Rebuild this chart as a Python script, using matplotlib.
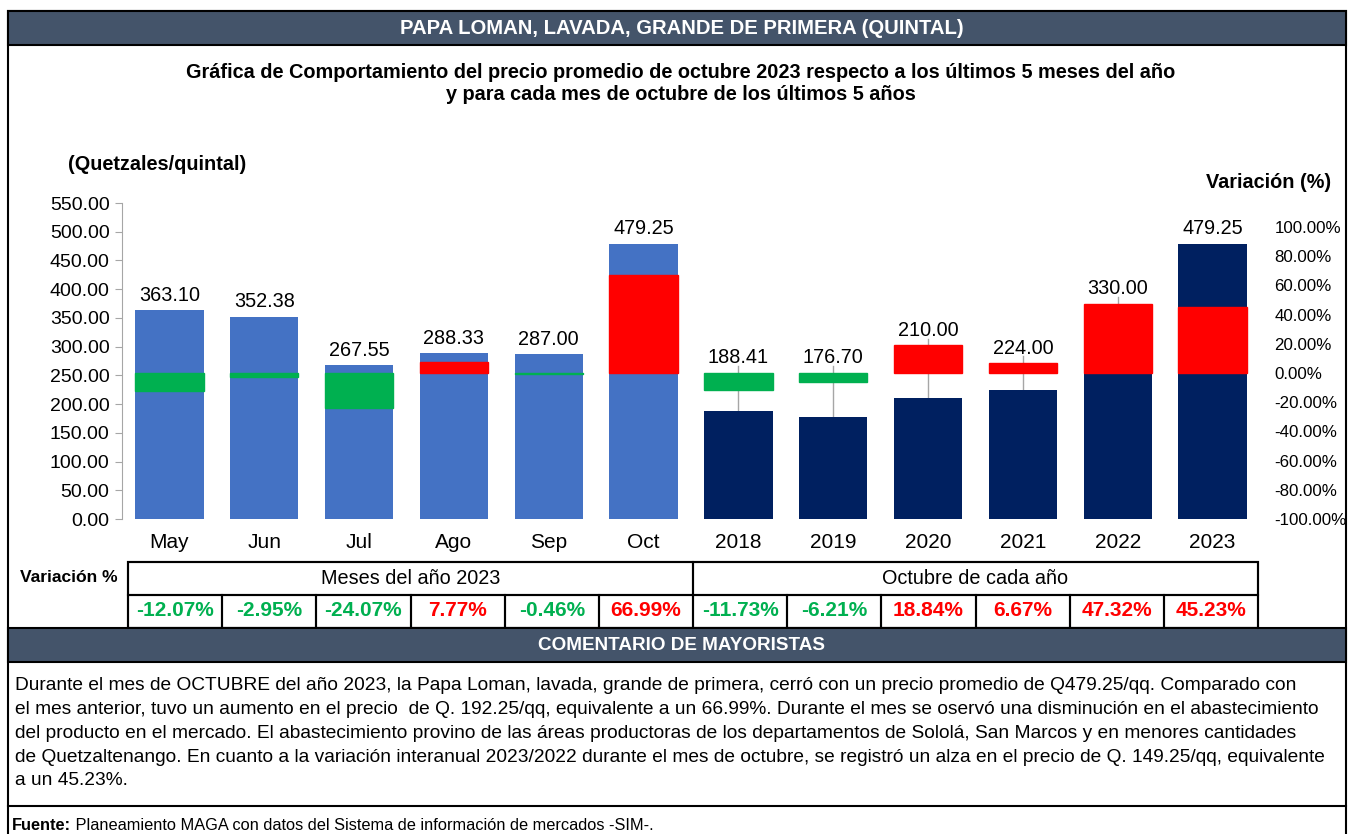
import matplotlib.pyplot as plt
from matplotlib.patches import Rectangle
from matplotlib.lines import Line2D
import numpy as np

plt.rcParams['font.family'] = ['Liberation Sans', 'DejaVu Sans']

# data
categories = ['May', 'Jun', 'Jul', 'Ago', 'Sep', 'Oct',
              '2018', '2019', '2020', '2021', '2022', '2023']
prices = [363.10, 352.38, 267.55, 288.33, 287.00, 479.25,
          188.41, 176.70, 210.00, 224.00, 330.00, 479.25]
variation = [-12.07, -2.95, -24.07, 7.77, -0.46, 66.99,
             -11.73, -6.21, 18.84, 6.67, 47.32, 45.23]
groups = ['Meses del año 2023', 'Octubre de cada año']
group_sizes = [6, 6]

title = 'PAPA LOMAN, LAVADA, GRANDE DE PRIMERA (QUINTAL)'
subtitle = ['Gráfica de Comportamiento del precio promedio de octubre 2023 respecto a los últimos 5 meses del año',
            'y para cada mes de octubre de los últimos 5 años']
comment = ['Durante el mes de OCTUBRE del año 2023, la Papa Loman, lavada, grande de primera, cerró con un precio promedio de Q479.25/qq. Comparado con',
           'el mes anterior, tuvo un aumento en el precio  de Q. 192.25/qq, equivalente a un 66.99%. Durante el mes se oservó una disminución en el abastecimiento',
           'del producto en el mercado. El abastecimiento provino de las áreas productoras de los departamentos de Sololá, San Marcos y en menores cantidades',
           'de Quetzaltenango. En cuanto a la variación interanual 2023/2022 durante el mes de octubre, se registró un alza en el precio de Q. 149.25/qq, equivalente',
           'a un 45.23%.']
source = 'Planeamiento MAGA con datos del Sistema de información de mercados -SIM-.'

band = '#44546A'
c_month = '#4472C4'
c_year = '#002060'
c_up = '#FF0000'
c_down = '#00B050'
fs = 14.3

W, H = 1348, 834
fig = plt.figure(figsize=(W / 100, H / 100), dpi=100)


def fx(x):
    return x / W


def fy(y):
    return 1 - y / H


def box(x0, y0, x1, y1, fc='none', ec='black', lw=1.5, z=1):
    fig.add_artist(Rectangle((fx(x0), fy(y1)), (x1 - x0) / W, (y1 - y0) / H,
                             transform=fig.transFigure, fc=fc, ec=ec, lw=lw, zorder=z))


def line(x0, y0, x1, y1, lw=1.5, color='black'):
    fig.add_artist(Line2D([fx(x0), fx(x1)], [fy(y0), fy(y1)],
                          transform=fig.transFigure, lw=lw, color=color))


# frame and bands
box(8, 11, 1346, 845, lw=1.5)
box(8, 11, 1346, 45, fc=band)
fig.text(fx(682), fy(28), title, color='white', fontsize=14.6, fontweight='bold',
         ha='center', va='center')
for k, s in enumerate(subtitle):
    fig.text(fx(681), fy(72 + 23 * k), s, fontsize=fs, fontweight='bold',
             ha='center', va='center')
fig.text(fx(68), fy(165), '(Quetzales/quintal)', fontsize=fs, fontweight='bold',
         ha='left', va='center')
fig.text(fx(1331), fy(183), 'Variación (%)', fontsize=fs, fontweight='bold',
         ha='right', va='center')

# chart
ax = fig.add_axes([fx(122), fy(519), (1260 - 122) / W, (519 - 203) / H])
x = np.arange(len(categories))
bw = 0.72
bar_colors = [c_month] * group_sizes[0] + [c_year] * group_sizes[1]
ax.bar(x, prices, width=bw, color=bar_colors, zorder=2)
ax.set_xlim(-0.5, len(categories) - 0.5)
ax.set_ylim(0, 550)
ax.set_yticks(np.arange(0, 551, 50))
ax.set_yticklabels(['%.2f' % v for v in np.arange(0, 551, 50)])
ax.set_xticks(x)
ax.set_xticklabels(categories)
for s in ['top', 'right', 'bottom']:
    ax.spines[s].set_visible(False)
ax.spines['left'].set_color('#A6A6A6')
ax.tick_params(axis='y', colors='#A6A6A6', labelcolor='black', length=5,
               labelsize=14, pad=4)
ax.tick_params(axis='x', length=0, labelsize=15, pad=10)

r_lo, r_hi = -100, 116.4
ax2 = ax.twinx()
var_colors = [c_up if v > 0 else c_down for v in variation]
ax2.bar(x, variation, width=bw, color=var_colors, edgecolor=var_colors, lw=1,
        zorder=3)
ax2.set_ylim(r_lo, r_hi)
ax2.set_yticks(np.arange(-100, 101, 20))
ax2.set_yticklabels(['%.2f%%' % v for v in np.arange(-100, 101, 20)])
for s in ax2.spines.values():
    s.set_visible(False)
ax2.tick_params(axis='y', length=0, labelsize=12.2, pad=10.5)


def to_left(v):
    return (v - r_lo) / (r_hi - r_lo) * 550


for i, (p, v) in enumerate(zip(prices, variation)):
    top_var = to_left(max(v, 0))
    base = max(p, top_var)
    if top_var > p:
        ax.plot([i, i], [p, base + 12], color='#A6A6A6', lw=1, zorder=1)
    ax2.annotate('%.2f' % p, xy=(i, base), xycoords=ax.transData, xytext=(0, 4),
                 textcoords='offset points', ha='center', va='bottom', fontsize=fs)

# variation table
t0, t1 = 128, 1258
cw = (t1 - t0) / len(categories)
box(t0, 562, t1, 628)
fig.text(fx(69), fy(578), 'Variación %', fontsize=12.6, fontweight='bold',
         ha='center', va='center')
start = 0
for g, n in zip(groups, group_sizes):
    gx0 = t0 + start * cw
    gx1 = gx0 + n * cw
    box(gx0, 562, gx1, 595)
    fig.text(fx((gx0 + gx1) / 2), fy(578), g, fontsize=fs, ha='center', va='center')
    start += n
for i, v in enumerate(variation):
    cx0 = t0 + i * cw
    box(cx0, 595, cx0 + cw, 628)
    fig.text(fx(cx0 + cw / 2), fy(611), '%.2f%%' % v, fontsize=15,
             fontweight='bold', color=c_up if v > 0 else c_down,
             ha='center', va='center')

# comments
box(8, 628, 1346, 662, fc=band)
fig.text(fx(682), fy(645), 'COMENTARIO DE MAYORISTAS', color='white', fontsize=13.6,
         fontweight='bold', ha='center', va='center')
for k, s in enumerate(comment):
    fig.text(fx(15), fy(686 + 23.7 * k), s, fontsize=13.75, ha='left', va='center')
line(8, 806, 1346, 806)
src = fig.text(fx(12), fy(826), 'Fuente:', fontsize=11.8, fontweight='bold',
               ha='left', va='center')
ax2.annotate(' ' + source, xy=(1, 0.5), xycoords=src, ha='left', va='center',
             fontsize=11.8)

fig.savefig('out.png', dpi=100)
